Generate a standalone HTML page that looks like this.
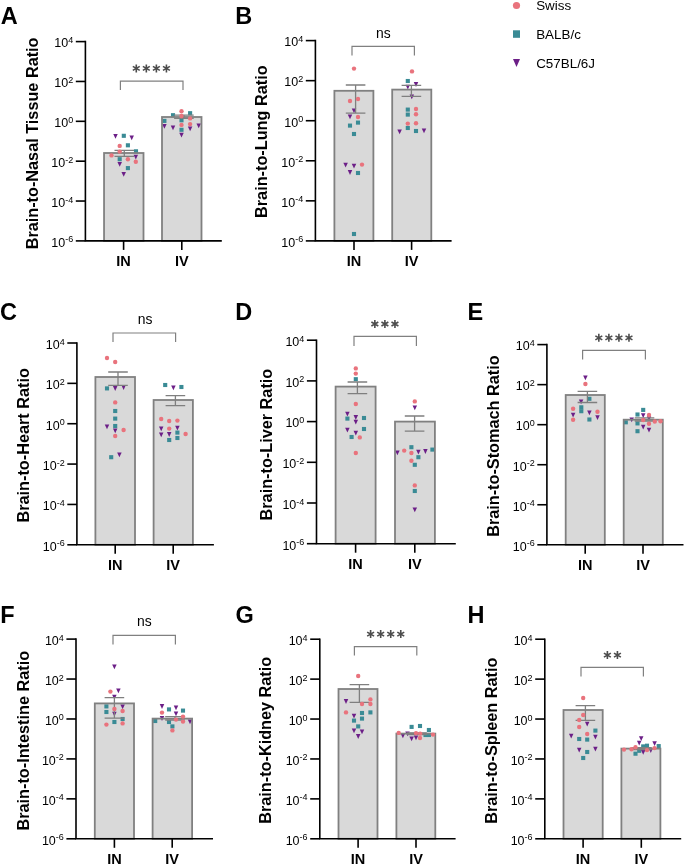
<!DOCTYPE html>
<html><head><meta charset="utf-8"><style>
html,body{margin:0;padding:0;background:#fff;}
svg{display:block;will-change:transform;}
text{font-family:"Liberation Sans",sans-serif;fill:#000;}
</style></head><body>
<svg width="685" height="865" viewBox="0 0 685 865">
<rect width="685" height="865" fill="#fff"/>
<text x="0.7" y="23.5" font-size="23.5" font-weight="bold">A</text>
<text transform="translate(37.5,143.4) rotate(-90)" text-anchor="middle" font-size="16.25" font-weight="bold">Brain-to-Nasal Tissue Ratio</text>
<rect x="104.05" y="153" width="39.45" height="87.9" fill="#D9D9D9"/>
<rect x="162" y="117" width="39.5" height="123.9" fill="#D9D9D9"/>
<rect x="121.75" y="133.75" width="4.1" height="4.1" fill="#3A8B95"/>
<rect x="125.85" y="143.25" width="4.1" height="4.1" fill="#3A8B95"/>
<rect x="133.95" y="149.25" width="4.1" height="4.1" fill="#3A8B95"/>
<rect x="117.65" y="157.15" width="4.1" height="4.1" fill="#3A8B95"/>
<rect x="125.85" y="166.05" width="4.1" height="4.1" fill="#3A8B95"/>
<rect x="188.05" y="111.15" width="4.1" height="4.1" fill="#3A8B95"/>
<rect x="170.95" y="113.15" width="4.1" height="4.1" fill="#3A8B95"/>
<rect x="162.35" y="118.85" width="4.1" height="4.1" fill="#3A8B95"/>
<rect x="179.45" y="118.25" width="4.1" height="4.1" fill="#3A8B95"/>
<rect x="179.45" y="127.75" width="4.1" height="4.1" fill="#3A8B95"/>
<path d="M113.25 133.9H117.75L115.5 138.7Z" fill="#6C1F87"/>
<path d="M129.45 135.4H133.95L131.7 140.2Z" fill="#6C1F87"/>
<path d="M133.55 154.7H138.05L135.8 159.5Z" fill="#6C1F87"/>
<path d="M117.45 162H121.95L119.7 166.8Z" fill="#6C1F87"/>
<path d="M121.45 172H125.95L123.7 176.8Z" fill="#6C1F87"/>
<path d="M162.15 123.9H166.65L164.4 128.7Z" fill="#6C1F87"/>
<path d="M170.75 125.4H175.25L173 130.2Z" fill="#6C1F87"/>
<path d="M187.85 126.5H192.35L190.1 131.3Z" fill="#6C1F87"/>
<path d="M196.45 123.5H200.95L198.7 128.3Z" fill="#6C1F87"/>
<path d="M179.25 132.7H183.75L181.5 137.5Z" fill="#6C1F87"/>
<rect x="104.05" y="153" width="39.45" height="87.9" fill="none" stroke="#808080" stroke-width="1.8"/>
<rect x="162" y="117" width="39.5" height="123.9" fill="none" stroke="#808080" stroke-width="1.8"/>
<path d="M114.5 150.4H134.1M124.3 150.4V156.3M114.5 156.3H134.1" stroke="#7F7F7F" stroke-width="1.3" fill="none"/>
<path d="M174.1 115.2H193.7M183.9 115.2V118.4M174.1 118.4H193.7" stroke="#7F7F7F" stroke-width="1.3" fill="none"/>
<circle cx="119.7" cy="145.9" r="2.2" fill="#E9737D"/>
<circle cx="119.7" cy="151.6" r="2.2" fill="#E9737D"/>
<circle cx="111.5" cy="155.4" r="2.2" fill="#E9737D"/>
<circle cx="127.9" cy="159.2" r="2.2" fill="#E9737D"/>
<circle cx="135.8" cy="161.7" r="2.2" fill="#E9737D"/>
<circle cx="181.5" cy="111.2" r="2.2" fill="#E9737D"/>
<circle cx="181.5" cy="116" r="2.2" fill="#E9737D"/>
<circle cx="190.1" cy="118.4" r="2.2" fill="#E9737D"/>
<circle cx="181.5" cy="124.9" r="2.2" fill="#E9737D"/>
<circle cx="190.1" cy="124.1" r="2.2" fill="#E9737D"/>
<path d="M85.4 40.8V240.9H221.8" stroke="#000" stroke-width="1.6" fill="none"/>
<path d="M75.8 41.6H85.4" stroke="#000" stroke-width="1.6"/>
<text x="73.2" y="47.4" text-anchor="end" font-size="12.5">10<tspan font-size="9" dy="-4.3">4</tspan></text>
<path d="M75.8 81.46H85.4" stroke="#000" stroke-width="1.6"/>
<text x="73.2" y="87.26" text-anchor="end" font-size="12.5">10<tspan font-size="9" dy="-4.3">2</tspan></text>
<path d="M75.8 121.32H85.4" stroke="#000" stroke-width="1.6"/>
<text x="73.2" y="127.12" text-anchor="end" font-size="12.5">10<tspan font-size="9" dy="-4.3">0</tspan></text>
<path d="M75.8 161.18H85.4" stroke="#000" stroke-width="1.6"/>
<text x="73.2" y="166.98" text-anchor="end" font-size="12.5">10<tspan font-size="9" dy="-4.3">-2</tspan></text>
<path d="M75.8 201.04H85.4" stroke="#000" stroke-width="1.6"/>
<text x="73.2" y="206.84" text-anchor="end" font-size="12.5">10<tspan font-size="9" dy="-4.3">-4</tspan></text>
<path d="M75.8 240.9H85.4" stroke="#000" stroke-width="1.6"/>
<text x="73.2" y="246.7" text-anchor="end" font-size="12.5">10<tspan font-size="9" dy="-4.3">-6</tspan></text>
<path d="M123.6 240.9V249.9" stroke="#000" stroke-width="1.6"/>
<text x="123.6" y="265.9" text-anchor="middle" font-size="14.5" font-weight="bold">IN</text>
<path d="M181.8 240.9V249.9" stroke="#000" stroke-width="1.6"/>
<text x="181.8" y="265.9" text-anchor="middle" font-size="14.5" font-weight="bold">IV</text>
<path d="M120.4 90V81.2H183V90" stroke="#808080" stroke-width="1.2" fill="none"/>
<path d="M136.28 72.4L136.28 64.4M132.81 70.4L139.74 66.4M132.81 66.4L139.74 70.4" stroke="#4D4D4D" stroke-width="1.6" fill="none"/><path d="M146.33 72.4L146.33 64.4M142.86 70.4L149.79 66.4M142.86 66.4L149.79 70.4" stroke="#4D4D4D" stroke-width="1.6" fill="none"/><path d="M156.38 72.4L156.38 64.4M152.91 70.4L159.84 66.4M152.91 66.4L159.84 70.4" stroke="#4D4D4D" stroke-width="1.6" fill="none"/><path d="M166.43 72.4L166.43 64.4M162.96 70.4L169.89 66.4M162.96 66.4L169.89 70.4" stroke="#4D4D4D" stroke-width="1.6" fill="none"/>
<text x="235.3" y="23.5" font-size="23.5" font-weight="bold">B</text>
<text transform="translate(267.3,141.7) rotate(-90)" text-anchor="middle" font-size="16.25" font-weight="bold">Brain-to-Lung Ratio</text>
<rect x="334.4" y="90.8" width="39" height="150.1" fill="#D9D9D9"/>
<rect x="392.2" y="89.6" width="39.1" height="151.3" fill="#D9D9D9"/>
<rect x="355.95" y="120.55" width="4.1" height="4.1" fill="#3A8B95"/>
<rect x="347.95" y="123.55" width="4.1" height="4.1" fill="#3A8B95"/>
<rect x="351.95" y="131.95" width="4.1" height="4.1" fill="#3A8B95"/>
<rect x="355.95" y="170.95" width="4.1" height="4.1" fill="#3A8B95"/>
<rect x="351.95" y="231.95" width="4.1" height="4.1" fill="#3A8B95"/>
<rect x="405.75" y="78.95" width="4.1" height="4.1" fill="#3A8B95"/>
<rect x="405.75" y="107.55" width="4.1" height="4.1" fill="#3A8B95"/>
<rect x="405.75" y="112.55" width="4.1" height="4.1" fill="#3A8B95"/>
<rect x="405.75" y="125.95" width="4.1" height="4.1" fill="#3A8B95"/>
<rect x="413.95" y="128.95" width="4.1" height="4.1" fill="#3A8B95"/>
<path d="M351.75 108.5H356.25L354 113.3Z" fill="#6C1F87"/>
<path d="M347.75 114.5H352.25L350 119.3Z" fill="#6C1F87"/>
<path d="M343.35 162.7H347.85L345.6 167.5Z" fill="#6C1F87"/>
<path d="M351.75 163.7H356.25L354 168.5Z" fill="#6C1F87"/>
<path d="M347.75 170.1H352.25L350 174.9Z" fill="#6C1F87"/>
<path d="M413.75 82.1H418.25L416 86.9Z" fill="#6C1F87"/>
<path d="M405.55 84.7H410.05L407.8 89.5Z" fill="#6C1F87"/>
<path d="M409.55 94.5H414.05L411.8 99.3Z" fill="#6C1F87"/>
<path d="M397.35 129.5H401.85L399.6 134.3Z" fill="#6C1F87"/>
<path d="M421.75 128.5H426.25L424 133.3Z" fill="#6C1F87"/>
<rect x="334.4" y="90.8" width="39" height="150.1" fill="none" stroke="#808080" stroke-width="1.8"/>
<rect x="392.2" y="89.6" width="39.1" height="151.3" fill="none" stroke="#808080" stroke-width="1.8"/>
<path d="M345.8 85H365.4M355.6 85V113.2M345.8 113.2H365.4" stroke="#7F7F7F" stroke-width="1.3" fill="none"/>
<path d="M401.6 85.4H421.2M411.4 85.4V96.4M401.6 96.4H421.2" stroke="#7F7F7F" stroke-width="1.3" fill="none"/>
<circle cx="354" cy="68.6" r="2.2" fill="#E9737D"/>
<circle cx="358" cy="99" r="2.2" fill="#E9737D"/>
<circle cx="350" cy="101" r="2.2" fill="#E9737D"/>
<circle cx="358" cy="117" r="2.2" fill="#E9737D"/>
<circle cx="362" cy="164.6" r="2.2" fill="#E9737D"/>
<circle cx="412" cy="71.4" r="2.2" fill="#E9737D"/>
<circle cx="416" cy="109" r="2.2" fill="#E9737D"/>
<circle cx="416" cy="114.2" r="2.2" fill="#E9737D"/>
<circle cx="407.8" cy="123.6" r="2.2" fill="#E9737D"/>
<circle cx="416" cy="123.2" r="2.2" fill="#E9737D"/>
<path d="M315.4 39.8V240.9H451.6" stroke="#000" stroke-width="1.6" fill="none"/>
<path d="M305.8 40.6H315.4" stroke="#000" stroke-width="1.6"/>
<text x="303.2" y="46.4" text-anchor="end" font-size="12.5">10<tspan font-size="9" dy="-4.3">4</tspan></text>
<path d="M305.8 80.66H315.4" stroke="#000" stroke-width="1.6"/>
<text x="303.2" y="86.46" text-anchor="end" font-size="12.5">10<tspan font-size="9" dy="-4.3">2</tspan></text>
<path d="M305.8 120.72H315.4" stroke="#000" stroke-width="1.6"/>
<text x="303.2" y="126.52" text-anchor="end" font-size="12.5">10<tspan font-size="9" dy="-4.3">0</tspan></text>
<path d="M305.8 160.78H315.4" stroke="#000" stroke-width="1.6"/>
<text x="303.2" y="166.58" text-anchor="end" font-size="12.5">10<tspan font-size="9" dy="-4.3">-2</tspan></text>
<path d="M305.8 200.84H315.4" stroke="#000" stroke-width="1.6"/>
<text x="303.2" y="206.64" text-anchor="end" font-size="12.5">10<tspan font-size="9" dy="-4.3">-4</tspan></text>
<path d="M305.8 240.9H315.4" stroke="#000" stroke-width="1.6"/>
<text x="303.2" y="246.7" text-anchor="end" font-size="12.5">10<tspan font-size="9" dy="-4.3">-6</tspan></text>
<path d="M354 240.9V249.9" stroke="#000" stroke-width="1.6"/>
<text x="354" y="265.9" text-anchor="middle" font-size="14.5" font-weight="bold">IN</text>
<path d="M411.6 240.9V249.9" stroke="#000" stroke-width="1.6"/>
<text x="411.6" y="265.9" text-anchor="middle" font-size="14.5" font-weight="bold">IV</text>
<path d="M352 55.5V46.3H414.4V55.5" stroke="#808080" stroke-width="1.2" fill="none"/>
<text x="383.4" y="38" text-anchor="middle" font-size="13.9" fill="#555555">ns</text>
<text x="-0.1" y="319.8" font-size="23.5" font-weight="bold">C</text>
<text transform="translate(28.5,445.3) rotate(-90)" text-anchor="middle" font-size="16.25" font-weight="bold">Brain-to-Heart Ratio</text>
<rect x="95.4" y="377" width="39.6" height="167.8" fill="#D9D9D9"/>
<rect x="153.6" y="400" width="39.3" height="144.8" fill="#D9D9D9"/>
<rect x="104.95" y="386.35" width="4.1" height="4.1" fill="#3A8B95"/>
<rect x="113.15" y="408.95" width="4.1" height="4.1" fill="#3A8B95"/>
<rect x="113.15" y="416.55" width="4.1" height="4.1" fill="#3A8B95"/>
<rect x="113.15" y="423.95" width="4.1" height="4.1" fill="#3A8B95"/>
<rect x="109.15" y="455.15" width="4.1" height="4.1" fill="#3A8B95"/>
<rect x="163.15" y="382.95" width="4.1" height="4.1" fill="#3A8B95"/>
<rect x="179.35" y="384.95" width="4.1" height="4.1" fill="#3A8B95"/>
<rect x="175.35" y="430.55" width="4.1" height="4.1" fill="#3A8B95"/>
<rect x="175.35" y="435.95" width="4.1" height="4.1" fill="#3A8B95"/>
<rect x="167.15" y="437.95" width="4.1" height="4.1" fill="#3A8B95"/>
<path d="M112.95 386.1H117.45L115.2 390.9Z" fill="#6C1F87"/>
<path d="M121.35 385.1H125.85L123.6 389.9Z" fill="#6C1F87"/>
<path d="M104.75 424.5H109.25L107 429.3Z" fill="#6C1F87"/>
<path d="M112.95 428.5H117.45L115.2 433.3Z" fill="#6C1F87"/>
<path d="M117.15 452.5H121.65L119.4 457.3Z" fill="#6C1F87"/>
<path d="M171.15 385.5H175.65L173.4 390.3Z" fill="#6C1F87"/>
<path d="M158.95 426.5H163.45L161.2 431.3Z" fill="#6C1F87"/>
<path d="M175.15 425.7H179.65L177.4 430.5Z" fill="#6C1F87"/>
<path d="M158.95 432.5H163.45L161.2 437.3Z" fill="#6C1F87"/>
<path d="M166.95 432.1H171.45L169.2 436.9Z" fill="#6C1F87"/>
<rect x="95.4" y="377" width="39.6" height="167.8" fill="none" stroke="#808080" stroke-width="1.8"/>
<rect x="153.6" y="400" width="39.3" height="144.8" fill="none" stroke="#808080" stroke-width="1.8"/>
<path d="M108.2 372H127.8M118 372V385.4M108.2 385.4H127.8" stroke="#7F7F7F" stroke-width="1.3" fill="none"/>
<path d="M165.6 395.6H185.2M175.4 395.6V405.6M165.6 405.6H185.2" stroke="#7F7F7F" stroke-width="1.3" fill="none"/>
<circle cx="107" cy="358" r="2.2" fill="#E9737D"/>
<circle cx="115.2" cy="362" r="2.2" fill="#E9737D"/>
<circle cx="115.2" cy="402.4" r="2.2" fill="#E9737D"/>
<circle cx="123.6" cy="430" r="2.2" fill="#E9737D"/>
<circle cx="115.2" cy="436" r="2.2" fill="#E9737D"/>
<circle cx="161.2" cy="419" r="2.2" fill="#E9737D"/>
<circle cx="169.2" cy="421" r="2.2" fill="#E9737D"/>
<circle cx="177.4" cy="420.6" r="2.2" fill="#E9737D"/>
<circle cx="169.2" cy="428.6" r="2.2" fill="#E9737D"/>
<circle cx="185.6" cy="434" r="2.2" fill="#E9737D"/>
<path d="M76.9 342.2V544.8H213.9" stroke="#000" stroke-width="1.6" fill="none"/>
<path d="M67.3 343H76.9" stroke="#000" stroke-width="1.6"/>
<text x="64.7" y="348.8" text-anchor="end" font-size="12.5">10<tspan font-size="9" dy="-4.3">4</tspan></text>
<path d="M67.3 383.36H76.9" stroke="#000" stroke-width="1.6"/>
<text x="64.7" y="389.16" text-anchor="end" font-size="12.5">10<tspan font-size="9" dy="-4.3">2</tspan></text>
<path d="M67.3 423.72H76.9" stroke="#000" stroke-width="1.6"/>
<text x="64.7" y="429.52" text-anchor="end" font-size="12.5">10<tspan font-size="9" dy="-4.3">0</tspan></text>
<path d="M67.3 464.08H76.9" stroke="#000" stroke-width="1.6"/>
<text x="64.7" y="469.88" text-anchor="end" font-size="12.5">10<tspan font-size="9" dy="-4.3">-2</tspan></text>
<path d="M67.3 504.44H76.9" stroke="#000" stroke-width="1.6"/>
<text x="64.7" y="510.24" text-anchor="end" font-size="12.5">10<tspan font-size="9" dy="-4.3">-4</tspan></text>
<path d="M67.3 544.8H76.9" stroke="#000" stroke-width="1.6"/>
<text x="64.7" y="550.6" text-anchor="end" font-size="12.5">10<tspan font-size="9" dy="-4.3">-6</tspan></text>
<path d="M115.2 544.8V553.8" stroke="#000" stroke-width="1.6"/>
<text x="115.2" y="569.8" text-anchor="middle" font-size="14.5" font-weight="bold">IN</text>
<path d="M173.2 544.8V553.8" stroke="#000" stroke-width="1.6"/>
<text x="173.2" y="569.8" text-anchor="middle" font-size="14.5" font-weight="bold">IV</text>
<path d="M113 342V333H175.6V342" stroke="#808080" stroke-width="1.2" fill="none"/>
<text x="145" y="324" text-anchor="middle" font-size="13.9" fill="#555555">ns</text>
<text x="235.3" y="319.8" font-size="23.5" font-weight="bold">D</text>
<text transform="translate(271.5,444.6) rotate(-90)" text-anchor="middle" font-size="16.25" font-weight="bold">Brain-to-Liver Ratio</text>
<rect x="335.6" y="386.6" width="40" height="157.1" fill="#D9D9D9"/>
<rect x="395" y="421.6" width="39.9" height="122.1" fill="#D9D9D9"/>
<rect x="353.75" y="377.15" width="4.1" height="4.1" fill="#3A8B95"/>
<rect x="345.35" y="416.55" width="4.1" height="4.1" fill="#3A8B95"/>
<rect x="361.95" y="415.95" width="4.1" height="4.1" fill="#3A8B95"/>
<rect x="361.95" y="426.95" width="4.1" height="4.1" fill="#3A8B95"/>
<rect x="349.55" y="434.95" width="4.1" height="4.1" fill="#3A8B95"/>
<rect x="409.35" y="445.15" width="4.1" height="4.1" fill="#3A8B95"/>
<rect x="430.35" y="447.55" width="4.1" height="4.1" fill="#3A8B95"/>
<rect x="416.35" y="455.15" width="4.1" height="4.1" fill="#3A8B95"/>
<rect x="412.75" y="462.75" width="4.1" height="4.1" fill="#3A8B95"/>
<rect x="412.75" y="488.95" width="4.1" height="4.1" fill="#3A8B95"/>
<path d="M345.15 411.7H349.65L347.4 416.5Z" fill="#6C1F87"/>
<path d="M353.55 415.1H358.05L355.8 419.9Z" fill="#6C1F87"/>
<path d="M353.55 419.7H358.05L355.8 424.5Z" fill="#6C1F87"/>
<path d="M345.15 427.7H349.65L347.4 432.5Z" fill="#6C1F87"/>
<path d="M353.55 430.7H358.05L355.8 435.5Z" fill="#6C1F87"/>
<path d="M412.55 405.5H417.05L414.8 410.3Z" fill="#6C1F87"/>
<path d="M395.15 450.5H399.65L397.4 455.3Z" fill="#6C1F87"/>
<path d="M416.15 449.7H420.65L418.4 454.5Z" fill="#6C1F87"/>
<path d="M423.15 449.1H427.65L425.4 453.9Z" fill="#6C1F87"/>
<path d="M412.55 507.5H417.05L414.8 512.3Z" fill="#6C1F87"/>
<rect x="335.6" y="386.6" width="40" height="157.1" fill="none" stroke="#808080" stroke-width="1.8"/>
<rect x="395" y="421.6" width="39.9" height="122.1" fill="none" stroke="#808080" stroke-width="1.8"/>
<path d="M347.6 382H367.2M357.4 382V393.6M347.6 393.6H367.2" stroke="#7F7F7F" stroke-width="1.3" fill="none"/>
<path d="M404.8 416H424.4M414.6 416V431.2M404.8 431.2H424.4" stroke="#7F7F7F" stroke-width="1.3" fill="none"/>
<circle cx="355.8" cy="368.4" r="2.2" fill="#E9737D"/>
<circle cx="355.8" cy="373.6" r="2.2" fill="#E9737D"/>
<circle cx="355.8" cy="404" r="2.2" fill="#E9737D"/>
<circle cx="359.8" cy="437.4" r="2.2" fill="#E9737D"/>
<circle cx="355.8" cy="453" r="2.2" fill="#E9737D"/>
<circle cx="414.8" cy="401.4" r="2.2" fill="#E9737D"/>
<circle cx="404.2" cy="450.6" r="2.2" fill="#E9737D"/>
<circle cx="411.4" cy="453" r="2.2" fill="#E9737D"/>
<circle cx="411.4" cy="460.8" r="2.2" fill="#E9737D"/>
<circle cx="414.8" cy="485.4" r="2.2" fill="#E9737D"/>
<path d="M316.5 339.4V543.7H455.8" stroke="#000" stroke-width="1.6" fill="none"/>
<path d="M306.9 340.2H316.5" stroke="#000" stroke-width="1.6"/>
<text x="304.3" y="346" text-anchor="end" font-size="12.5">10<tspan font-size="9" dy="-4.3">4</tspan></text>
<path d="M306.9 380.9H316.5" stroke="#000" stroke-width="1.6"/>
<text x="304.3" y="386.7" text-anchor="end" font-size="12.5">10<tspan font-size="9" dy="-4.3">2</tspan></text>
<path d="M306.9 421.6H316.5" stroke="#000" stroke-width="1.6"/>
<text x="304.3" y="427.4" text-anchor="end" font-size="12.5">10<tspan font-size="9" dy="-4.3">0</tspan></text>
<path d="M306.9 462.3H316.5" stroke="#000" stroke-width="1.6"/>
<text x="304.3" y="468.1" text-anchor="end" font-size="12.5">10<tspan font-size="9" dy="-4.3">-2</tspan></text>
<path d="M306.9 503H316.5" stroke="#000" stroke-width="1.6"/>
<text x="304.3" y="508.8" text-anchor="end" font-size="12.5">10<tspan font-size="9" dy="-4.3">-4</tspan></text>
<path d="M306.9 543.7H316.5" stroke="#000" stroke-width="1.6"/>
<text x="304.3" y="549.5" text-anchor="end" font-size="12.5">10<tspan font-size="9" dy="-4.3">-6</tspan></text>
<path d="M355.6 543.7V552.7" stroke="#000" stroke-width="1.6"/>
<text x="355.6" y="568.7" text-anchor="middle" font-size="14.5" font-weight="bold">IN</text>
<path d="M414.8 543.7V552.7" stroke="#000" stroke-width="1.6"/>
<text x="414.8" y="568.7" text-anchor="middle" font-size="14.5" font-weight="bold">IV</text>
<path d="M354 346V336.4H416.4V346" stroke="#808080" stroke-width="1.2" fill="none"/>
<path d="M374.85 328.05L374.85 320.05M371.39 326.05L378.31 322.05M371.39 322.05L378.31 326.05" stroke="#4D4D4D" stroke-width="1.6" fill="none"/><path d="M384.9 328.05L384.9 320.05M381.44 326.05L388.36 322.05M381.44 322.05L388.36 326.05" stroke="#4D4D4D" stroke-width="1.6" fill="none"/><path d="M394.95 328.05L394.95 320.05M391.49 326.05L398.41 322.05M391.49 322.05L398.41 326.05" stroke="#4D4D4D" stroke-width="1.6" fill="none"/>
<text x="467.6" y="319.8" font-size="23.5" font-weight="bold">E</text>
<text transform="translate(498.8,446.1) rotate(-90)" text-anchor="middle" font-size="16.25" font-weight="bold">Brain-to-Stomach Ratio</text>
<rect x="565.7" y="395" width="39.1" height="149.8" fill="#D9D9D9"/>
<rect x="623.7" y="419.7" width="39.1" height="125.1" fill="#D9D9D9"/>
<rect x="587.35" y="396.75" width="4.1" height="4.1" fill="#3A8B95"/>
<rect x="579.25" y="405.25" width="4.1" height="4.1" fill="#3A8B95"/>
<rect x="579.25" y="409.15" width="4.1" height="4.1" fill="#3A8B95"/>
<rect x="587.35" y="417.45" width="4.1" height="4.1" fill="#3A8B95"/>
<rect x="641.15" y="407.85" width="4.1" height="4.1" fill="#3A8B95"/>
<rect x="635.45" y="412.45" width="4.1" height="4.1" fill="#3A8B95"/>
<rect x="623.75" y="420.25" width="4.1" height="4.1" fill="#3A8B95"/>
<rect x="635.45" y="421.35" width="4.1" height="4.1" fill="#3A8B95"/>
<rect x="635.45" y="429.15" width="4.1" height="4.1" fill="#3A8B95"/>
<path d="M583.15 375.4H587.65L585.4 380.2Z" fill="#6C1F87"/>
<path d="M578.85 399.5H583.35L581.1 404.3Z" fill="#6C1F87"/>
<path d="M570.85 412.8H575.35L573.1 417.6Z" fill="#6C1F87"/>
<path d="M587.15 410.4H591.65L589.4 415.2Z" fill="#6C1F87"/>
<path d="M595.25 415.2H599.75L597.5 420Z" fill="#6C1F87"/>
<path d="M640.95 413.3H645.45L643.2 418.1Z" fill="#6C1F87"/>
<path d="M629.45 417.4H633.95L631.7 422.2Z" fill="#6C1F87"/>
<path d="M646.75 416.3H651.25L649 421.1Z" fill="#6C1F87"/>
<path d="M640.95 424.7H645.45L643.2 429.5Z" fill="#6C1F87"/>
<path d="M646.75 427.7H651.25L649 432.5Z" fill="#6C1F87"/>
<rect x="565.7" y="395" width="39.1" height="149.8" fill="none" stroke="#808080" stroke-width="1.8"/>
<rect x="623.7" y="419.7" width="39.1" height="125.1" fill="none" stroke="#808080" stroke-width="1.8"/>
<path d="M577.6 391.4H597.2M587.4 391.4V402.5M577.6 402.5H597.2" stroke="#7F7F7F" stroke-width="1.3" fill="none"/>
<path d="M634.7 417.9H654.3M644.5 417.9V421M634.7 421H654.3" stroke="#7F7F7F" stroke-width="1.3" fill="none"/>
<circle cx="585.4" cy="384" r="2.2" fill="#E9737D"/>
<circle cx="573.1" cy="408.7" r="2.2" fill="#E9737D"/>
<circle cx="573.1" cy="419.8" r="2.2" fill="#E9737D"/>
<circle cx="597.5" cy="411.8" r="2.2" fill="#E9737D"/>
<circle cx="649" cy="415" r="2.2" fill="#E9737D"/>
<circle cx="643.2" cy="420" r="2.2" fill="#E9737D"/>
<circle cx="649" cy="423.7" r="2.2" fill="#E9737D"/>
<circle cx="654.8" cy="421.5" r="2.2" fill="#E9737D"/>
<circle cx="660.5" cy="421.2" r="2.2" fill="#E9737D"/>
<path d="M546.9 343.8V544.8H683.5" stroke="#000" stroke-width="1.6" fill="none"/>
<path d="M537.3 344.6H546.9" stroke="#000" stroke-width="1.6"/>
<text x="534.7" y="350.4" text-anchor="end" font-size="12.5">10<tspan font-size="9" dy="-4.3">4</tspan></text>
<path d="M537.3 384.64H546.9" stroke="#000" stroke-width="1.6"/>
<text x="534.7" y="390.44" text-anchor="end" font-size="12.5">10<tspan font-size="9" dy="-4.3">2</tspan></text>
<path d="M537.3 424.68H546.9" stroke="#000" stroke-width="1.6"/>
<text x="534.7" y="430.48" text-anchor="end" font-size="12.5">10<tspan font-size="9" dy="-4.3">0</tspan></text>
<path d="M537.3 464.72H546.9" stroke="#000" stroke-width="1.6"/>
<text x="534.7" y="470.52" text-anchor="end" font-size="12.5">10<tspan font-size="9" dy="-4.3">-2</tspan></text>
<path d="M537.3 504.76H546.9" stroke="#000" stroke-width="1.6"/>
<text x="534.7" y="510.56" text-anchor="end" font-size="12.5">10<tspan font-size="9" dy="-4.3">-4</tspan></text>
<path d="M537.3 544.8H546.9" stroke="#000" stroke-width="1.6"/>
<text x="534.7" y="550.6" text-anchor="end" font-size="12.5">10<tspan font-size="9" dy="-4.3">-6</tspan></text>
<path d="M585.2 544.8V553.8" stroke="#000" stroke-width="1.6"/>
<text x="585.2" y="569.8" text-anchor="middle" font-size="14.5" font-weight="bold">IN</text>
<path d="M643 544.8V553.8" stroke="#000" stroke-width="1.6"/>
<text x="643" y="569.8" text-anchor="middle" font-size="14.5" font-weight="bold">IV</text>
<path d="M582.6 359.4V350.4H645.4V359.4" stroke="#808080" stroke-width="1.2" fill="none"/>
<path d="M598.82 341.85L598.82 333.85M595.36 339.85L602.29 335.85M595.36 335.85L602.29 339.85" stroke="#4D4D4D" stroke-width="1.6" fill="none"/><path d="M608.87 341.85L608.87 333.85M605.41 339.85L612.34 335.85M605.41 335.85L612.34 339.85" stroke="#4D4D4D" stroke-width="1.6" fill="none"/><path d="M618.92 341.85L618.92 333.85M615.46 339.85L622.39 335.85M615.46 335.85L622.39 339.85" stroke="#4D4D4D" stroke-width="1.6" fill="none"/><path d="M628.97 341.85L628.97 333.85M625.51 339.85L632.44 335.85M625.51 335.85L632.44 339.85" stroke="#4D4D4D" stroke-width="1.6" fill="none"/>
<text x="0.2" y="622.7" font-size="23.5" font-weight="bold">F</text>
<text transform="translate(28.5,740.7) rotate(-90)" text-anchor="middle" font-size="16.25" font-weight="bold">Brain-to-Intestine Ratio</text>
<rect x="94.8" y="703.4" width="39.2" height="135.4" fill="#D9D9D9"/>
<rect x="152.6" y="718.6" width="39.5" height="120.2" fill="#D9D9D9"/>
<rect x="104.35" y="704.35" width="4.1" height="4.1" fill="#3A8B95"/>
<rect x="104.35" y="709.95" width="4.1" height="4.1" fill="#3A8B95"/>
<rect x="120.55" y="716.95" width="4.1" height="4.1" fill="#3A8B95"/>
<rect x="112.35" y="719.95" width="4.1" height="4.1" fill="#3A8B95"/>
<rect x="166.95" y="707.35" width="4.1" height="4.1" fill="#3A8B95"/>
<rect x="180.95" y="708.55" width="4.1" height="4.1" fill="#3A8B95"/>
<rect x="153.15" y="718.95" width="4.1" height="4.1" fill="#3A8B95"/>
<rect x="166.95" y="719.95" width="4.1" height="4.1" fill="#3A8B95"/>
<rect x="170.35" y="724.35" width="4.1" height="4.1" fill="#3A8B95"/>
<path d="M112.15 664.5H116.65L114.4 669.3Z" fill="#6C1F87"/>
<path d="M116.15 688.5H120.65L118.4 693.3Z" fill="#6C1F87"/>
<path d="M112.15 694.7H116.65L114.4 699.5Z" fill="#6C1F87"/>
<path d="M120.35 704.5H124.85L122.6 709.3Z" fill="#6C1F87"/>
<path d="M112.15 711.7H116.65L114.4 716.5Z" fill="#6C1F87"/>
<path d="M159.75 704.1H164.25L162 708.9Z" fill="#6C1F87"/>
<path d="M173.75 705.5H178.25L176 710.3Z" fill="#6C1F87"/>
<path d="M173.75 711.5H178.25L176 716.3Z" fill="#6C1F87"/>
<path d="M159.75 716.1H164.25L162 720.9Z" fill="#6C1F87"/>
<path d="M187.75 719.5H192.25L190 724.3Z" fill="#6C1F87"/>
<rect x="94.8" y="703.4" width="39.2" height="135.4" fill="none" stroke="#808080" stroke-width="1.8"/>
<rect x="152.6" y="718.6" width="39.5" height="120.2" fill="none" stroke="#808080" stroke-width="1.8"/>
<path d="M104.6 697.6H124.2M114.4 697.6V718.2M104.6 718.2H124.2" stroke="#7F7F7F" stroke-width="1.3" fill="none"/>
<path d="M165.2 716.6H184.8M175 716.6V720M165.2 720H184.8" stroke="#7F7F7F" stroke-width="1.3" fill="none"/>
<circle cx="110.4" cy="691.6" r="2.2" fill="#E9737D"/>
<circle cx="114.4" cy="709" r="2.2" fill="#E9737D"/>
<circle cx="122.6" cy="711" r="2.2" fill="#E9737D"/>
<circle cx="106.4" cy="724.6" r="2.2" fill="#E9737D"/>
<circle cx="122.6" cy="723.4" r="2.2" fill="#E9737D"/>
<circle cx="162" cy="712.6" r="2.2" fill="#E9737D"/>
<circle cx="183" cy="716.6" r="2.2" fill="#E9737D"/>
<circle cx="176" cy="719.6" r="2.2" fill="#E9737D"/>
<circle cx="183" cy="721.6" r="2.2" fill="#E9737D"/>
<circle cx="172.4" cy="730.4" r="2.2" fill="#E9737D"/>
<path d="M76 638.3V838.8H213" stroke="#000" stroke-width="1.6" fill="none"/>
<path d="M66.4 639.1H76" stroke="#000" stroke-width="1.6"/>
<text x="63.8" y="644.9" text-anchor="end" font-size="12.5">10<tspan font-size="9" dy="-4.3">4</tspan></text>
<path d="M66.4 679.04H76" stroke="#000" stroke-width="1.6"/>
<text x="63.8" y="684.84" text-anchor="end" font-size="12.5">10<tspan font-size="9" dy="-4.3">2</tspan></text>
<path d="M66.4 718.98H76" stroke="#000" stroke-width="1.6"/>
<text x="63.8" y="724.78" text-anchor="end" font-size="12.5">10<tspan font-size="9" dy="-4.3">0</tspan></text>
<path d="M66.4 758.92H76" stroke="#000" stroke-width="1.6"/>
<text x="63.8" y="764.72" text-anchor="end" font-size="12.5">10<tspan font-size="9" dy="-4.3">-2</tspan></text>
<path d="M66.4 798.86H76" stroke="#000" stroke-width="1.6"/>
<text x="63.8" y="804.66" text-anchor="end" font-size="12.5">10<tspan font-size="9" dy="-4.3">-4</tspan></text>
<path d="M66.4 838.8H76" stroke="#000" stroke-width="1.6"/>
<text x="63.8" y="844.6" text-anchor="end" font-size="12.5">10<tspan font-size="9" dy="-4.3">-6</tspan></text>
<path d="M114.4 838.8V847.8" stroke="#000" stroke-width="1.6"/>
<text x="114.4" y="863.8" text-anchor="middle" font-size="14.5" font-weight="bold">IN</text>
<path d="M172.2 838.8V847.8" stroke="#000" stroke-width="1.6"/>
<text x="172.2" y="863.8" text-anchor="middle" font-size="14.5" font-weight="bold">IV</text>
<path d="M113 644.4V635.4H175.4V644.4" stroke="#808080" stroke-width="1.2" fill="none"/>
<text x="144.4" y="626.4" text-anchor="middle" font-size="13.9" fill="#555555">ns</text>
<text x="235.5" y="622.7" font-size="23.5" font-weight="bold">G</text>
<text transform="translate(271.2,740.3) rotate(-90)" text-anchor="middle" font-size="16.25" font-weight="bold">Brain-to-Kidney Ratio</text>
<rect x="338.5" y="689" width="39" height="149.8" fill="#D9D9D9"/>
<rect x="396.4" y="733.6" width="38.9" height="105.2" fill="#D9D9D9"/>
<rect x="368.35" y="710.35" width="4.1" height="4.1" fill="#3A8B95"/>
<rect x="359.95" y="710.95" width="4.1" height="4.1" fill="#3A8B95"/>
<rect x="359.95" y="716.55" width="4.1" height="4.1" fill="#3A8B95"/>
<rect x="351.95" y="718.55" width="4.1" height="4.1" fill="#3A8B95"/>
<rect x="356.15" y="724.35" width="4.1" height="4.1" fill="#3A8B95"/>
<rect x="409.55" y="724.85" width="4.1" height="4.1" fill="#3A8B95"/>
<rect x="417.95" y="723.95" width="4.1" height="4.1" fill="#3A8B95"/>
<rect x="426.85" y="727.95" width="4.1" height="4.1" fill="#3A8B95"/>
<rect x="423.45" y="732.95" width="4.1" height="4.1" fill="#3A8B95"/>
<rect x="426.85" y="732.95" width="4.1" height="4.1" fill="#3A8B95"/>
<path d="M343.75 699.1H348.25L346 703.9Z" fill="#6C1F87"/>
<path d="M351.75 713.7H356.25L354 718.5Z" fill="#6C1F87"/>
<path d="M351.75 728.5H356.25L354 733.3Z" fill="#6C1F87"/>
<path d="M359.75 729.5H364.25L362 734.3Z" fill="#6C1F87"/>
<path d="M355.95 734.1H360.45L358.2 738.9Z" fill="#6C1F87"/>
<path d="M400.65 733.5H405.15L402.9 738.3Z" fill="#6C1F87"/>
<path d="M405.25 731.5H409.75L407.5 736.3Z" fill="#6C1F87"/>
<path d="M409.35 736.5H413.85L411.6 741.3Z" fill="#6C1F87"/>
<path d="M413.75 735.4H418.25L416 740.2Z" fill="#6C1F87"/>
<rect x="338.5" y="689" width="39" height="149.8" fill="none" stroke="#808080" stroke-width="1.8"/>
<rect x="396.4" y="733.6" width="38.9" height="105.2" fill="none" stroke="#808080" stroke-width="1.8"/>
<path d="M349.6 684.6H369.2M359.4 684.6V702.4M349.6 702.4H369.2" stroke="#7F7F7F" stroke-width="1.3" fill="none"/>
<path d="M407.2 732.8H426.8M417 732.8V734.6M407.2 734.6H426.8" stroke="#7F7F7F" stroke-width="1.3" fill="none"/>
<circle cx="358.2" cy="676" r="2.2" fill="#E9737D"/>
<circle cx="370.4" cy="699.4" r="2.2" fill="#E9737D"/>
<circle cx="362" cy="704" r="2.2" fill="#E9737D"/>
<circle cx="370.4" cy="704" r="2.2" fill="#E9737D"/>
<circle cx="346" cy="712.4" r="2.2" fill="#E9737D"/>
<circle cx="398.7" cy="732.9" r="2.2" fill="#E9737D"/>
<circle cx="416" cy="733.1" r="2.2" fill="#E9737D"/>
<circle cx="420.2" cy="733.6" r="2.2" fill="#E9737D"/>
<circle cx="433" cy="734.6" r="2.2" fill="#E9737D"/>
<circle cx="420" cy="738" r="2.2" fill="#E9737D"/>
<path d="M319.8 638.4V838.8H455.6" stroke="#000" stroke-width="1.6" fill="none"/>
<path d="M310.2 639.2H319.8" stroke="#000" stroke-width="1.6"/>
<text x="307.6" y="645" text-anchor="end" font-size="12.5">10<tspan font-size="9" dy="-4.3">4</tspan></text>
<path d="M310.2 679.12H319.8" stroke="#000" stroke-width="1.6"/>
<text x="307.6" y="684.92" text-anchor="end" font-size="12.5">10<tspan font-size="9" dy="-4.3">2</tspan></text>
<path d="M310.2 719.04H319.8" stroke="#000" stroke-width="1.6"/>
<text x="307.6" y="724.84" text-anchor="end" font-size="12.5">10<tspan font-size="9" dy="-4.3">0</tspan></text>
<path d="M310.2 758.96H319.8" stroke="#000" stroke-width="1.6"/>
<text x="307.6" y="764.76" text-anchor="end" font-size="12.5">10<tspan font-size="9" dy="-4.3">-2</tspan></text>
<path d="M310.2 798.88H319.8" stroke="#000" stroke-width="1.6"/>
<text x="307.6" y="804.68" text-anchor="end" font-size="12.5">10<tspan font-size="9" dy="-4.3">-4</tspan></text>
<path d="M310.2 838.8H319.8" stroke="#000" stroke-width="1.6"/>
<text x="307.6" y="844.6" text-anchor="end" font-size="12.5">10<tspan font-size="9" dy="-4.3">-6</tspan></text>
<path d="M358.1 838.8V847.8" stroke="#000" stroke-width="1.6"/>
<text x="358.1" y="863.8" text-anchor="middle" font-size="14.5" font-weight="bold">IN</text>
<path d="M416 838.8V847.8" stroke="#000" stroke-width="1.6"/>
<text x="416" y="863.8" text-anchor="middle" font-size="14.5" font-weight="bold">IV</text>
<path d="M354.4 655.6V646.6H416.8V655.6" stroke="#808080" stroke-width="1.2" fill="none"/>
<path d="M370.62 638.1L370.62 630.1M367.16 636.1L374.09 632.1M367.16 632.1L374.09 636.1" stroke="#4D4D4D" stroke-width="1.6" fill="none"/><path d="M380.68 638.1L380.68 630.1M377.21 636.1L384.14 632.1M377.21 632.1L384.14 636.1" stroke="#4D4D4D" stroke-width="1.6" fill="none"/><path d="M390.73 638.1L390.73 630.1M387.26 636.1L394.19 632.1M387.26 632.1L394.19 636.1" stroke="#4D4D4D" stroke-width="1.6" fill="none"/><path d="M400.77 638.1L400.77 630.1M397.31 636.1L404.24 632.1M397.31 632.1L404.24 636.1" stroke="#4D4D4D" stroke-width="1.6" fill="none"/>
<text x="467.6" y="622.7" font-size="23.5" font-weight="bold">H</text>
<text transform="translate(496.7,740.7) rotate(-90)" text-anchor="middle" font-size="16.25" font-weight="bold">Brain-to-Spleen Ratio</text>
<rect x="563.5" y="710" width="39.2" height="128.8" fill="#D9D9D9"/>
<rect x="621.4" y="748.6" width="39" height="90.2" fill="#D9D9D9"/>
<rect x="593.35" y="728.55" width="4.1" height="4.1" fill="#3A8B95"/>
<rect x="577.15" y="736.95" width="4.1" height="4.1" fill="#3A8B95"/>
<rect x="585.15" y="737.55" width="4.1" height="4.1" fill="#3A8B95"/>
<rect x="585.15" y="749.95" width="4.1" height="4.1" fill="#3A8B95"/>
<rect x="581.15" y="755.95" width="4.1" height="4.1" fill="#3A8B95"/>
<rect x="641.15" y="744.35" width="4.1" height="4.1" fill="#3A8B95"/>
<rect x="644.95" y="743.65" width="4.1" height="4.1" fill="#3A8B95"/>
<rect x="656.65" y="744.05" width="4.1" height="4.1" fill="#3A8B95"/>
<rect x="633.45" y="751.65" width="4.1" height="4.1" fill="#3A8B95"/>
<rect x="637.15" y="748.75" width="4.1" height="4.1" fill="#3A8B95"/>
<path d="M584.95 721.7H589.45L587.2 726.5Z" fill="#6C1F87"/>
<path d="M568.95 733.7H573.45L571.2 738.5Z" fill="#6C1F87"/>
<path d="M593.15 734.7H597.65L595.4 739.5Z" fill="#6C1F87"/>
<path d="M576.95 747.7H581.45L579.2 752.5Z" fill="#6C1F87"/>
<path d="M593.15 746.7H597.65L595.4 751.5Z" fill="#6C1F87"/>
<path d="M638.95 736.3H643.45L641.2 741.1Z" fill="#6C1F87"/>
<path d="M636.95 740.7H641.45L639.2 745.5Z" fill="#6C1F87"/>
<path d="M652.35 741.2H656.85L654.6 746Z" fill="#6C1F87"/>
<path d="M640.95 749.9H645.45L643.2 754.7Z" fill="#6C1F87"/>
<path d="M648.55 748.1H653.05L650.8 752.9Z" fill="#6C1F87"/>
<rect x="563.5" y="710" width="39.2" height="128.8" fill="none" stroke="#808080" stroke-width="1.8"/>
<rect x="621.4" y="748.6" width="39" height="90.2" fill="none" stroke="#808080" stroke-width="1.8"/>
<path d="M575.6 705.6H595.2M585.4 705.6V720.4M575.6 720.4H595.2" stroke="#7F7F7F" stroke-width="1.3" fill="none"/>
<path d="M632.2 747.6H651.8M642 747.6V749.6M632.2 749.6H651.8" stroke="#7F7F7F" stroke-width="1.3" fill="none"/>
<circle cx="583.2" cy="698" r="2.2" fill="#E9737D"/>
<circle cx="583.2" cy="715" r="2.2" fill="#E9737D"/>
<circle cx="579.2" cy="720" r="2.2" fill="#E9737D"/>
<circle cx="579.2" cy="727" r="2.2" fill="#E9737D"/>
<circle cx="587.2" cy="734" r="2.2" fill="#E9737D"/>
<circle cx="624" cy="749.6" r="2.2" fill="#E9737D"/>
<circle cx="631.5" cy="749.3" r="2.2" fill="#E9737D"/>
<circle cx="635.5" cy="747.2" r="2.2" fill="#E9737D"/>
<circle cx="654.5" cy="748.1" r="2.2" fill="#E9737D"/>
<circle cx="647" cy="750.1" r="2.2" fill="#E9737D"/>
<path d="M544.8 638.4V838.8H681.2" stroke="#000" stroke-width="1.6" fill="none"/>
<path d="M535.2 639.2H544.8" stroke="#000" stroke-width="1.6"/>
<text x="532.6" y="645" text-anchor="end" font-size="12.5">10<tspan font-size="9" dy="-4.3">4</tspan></text>
<path d="M535.2 679.12H544.8" stroke="#000" stroke-width="1.6"/>
<text x="532.6" y="684.92" text-anchor="end" font-size="12.5">10<tspan font-size="9" dy="-4.3">2</tspan></text>
<path d="M535.2 719.04H544.8" stroke="#000" stroke-width="1.6"/>
<text x="532.6" y="724.84" text-anchor="end" font-size="12.5">10<tspan font-size="9" dy="-4.3">0</tspan></text>
<path d="M535.2 758.96H544.8" stroke="#000" stroke-width="1.6"/>
<text x="532.6" y="764.76" text-anchor="end" font-size="12.5">10<tspan font-size="9" dy="-4.3">-2</tspan></text>
<path d="M535.2 798.88H544.8" stroke="#000" stroke-width="1.6"/>
<text x="532.6" y="804.68" text-anchor="end" font-size="12.5">10<tspan font-size="9" dy="-4.3">-4</tspan></text>
<path d="M535.2 838.8H544.8" stroke="#000" stroke-width="1.6"/>
<text x="532.6" y="844.6" text-anchor="end" font-size="12.5">10<tspan font-size="9" dy="-4.3">-6</tspan></text>
<path d="M583.1 838.8V847.8" stroke="#000" stroke-width="1.6"/>
<text x="583.1" y="863.8" text-anchor="middle" font-size="14.5" font-weight="bold">IN</text>
<path d="M641.3 838.8V847.8" stroke="#000" stroke-width="1.6"/>
<text x="641.3" y="863.8" text-anchor="middle" font-size="14.5" font-weight="bold">IV</text>
<path d="M581 676.6V667.4H643.4V676.6" stroke="#808080" stroke-width="1.2" fill="none"/>
<path d="M607.38 659.1L607.38 651.1M603.91 657.1L610.84 653.1M603.91 653.1L610.84 657.1" stroke="#4D4D4D" stroke-width="1.6" fill="none"/><path d="M617.42 659.1L617.42 651.1M613.96 657.1L620.89 653.1M613.96 653.1L620.89 657.1" stroke="#4D4D4D" stroke-width="1.6" fill="none"/>
<circle cx="516.5" cy="5.5" r="3.6" fill="#E9737D"/>
<text x="536.2" y="10.3" font-size="13.4">Swiss</text>
<rect x="513" y="30.3" width="7" height="7.5" fill="#3A8B95"/>
<text x="536.2" y="38.9" font-size="13.4">BALB/c</text>
<path d="M513 59H520L516.5 67Z" fill="#6C1F87"/>
<text x="536.2" y="67.5" font-size="13.4">C57BL/6J</text>
</svg>
</body></html>
